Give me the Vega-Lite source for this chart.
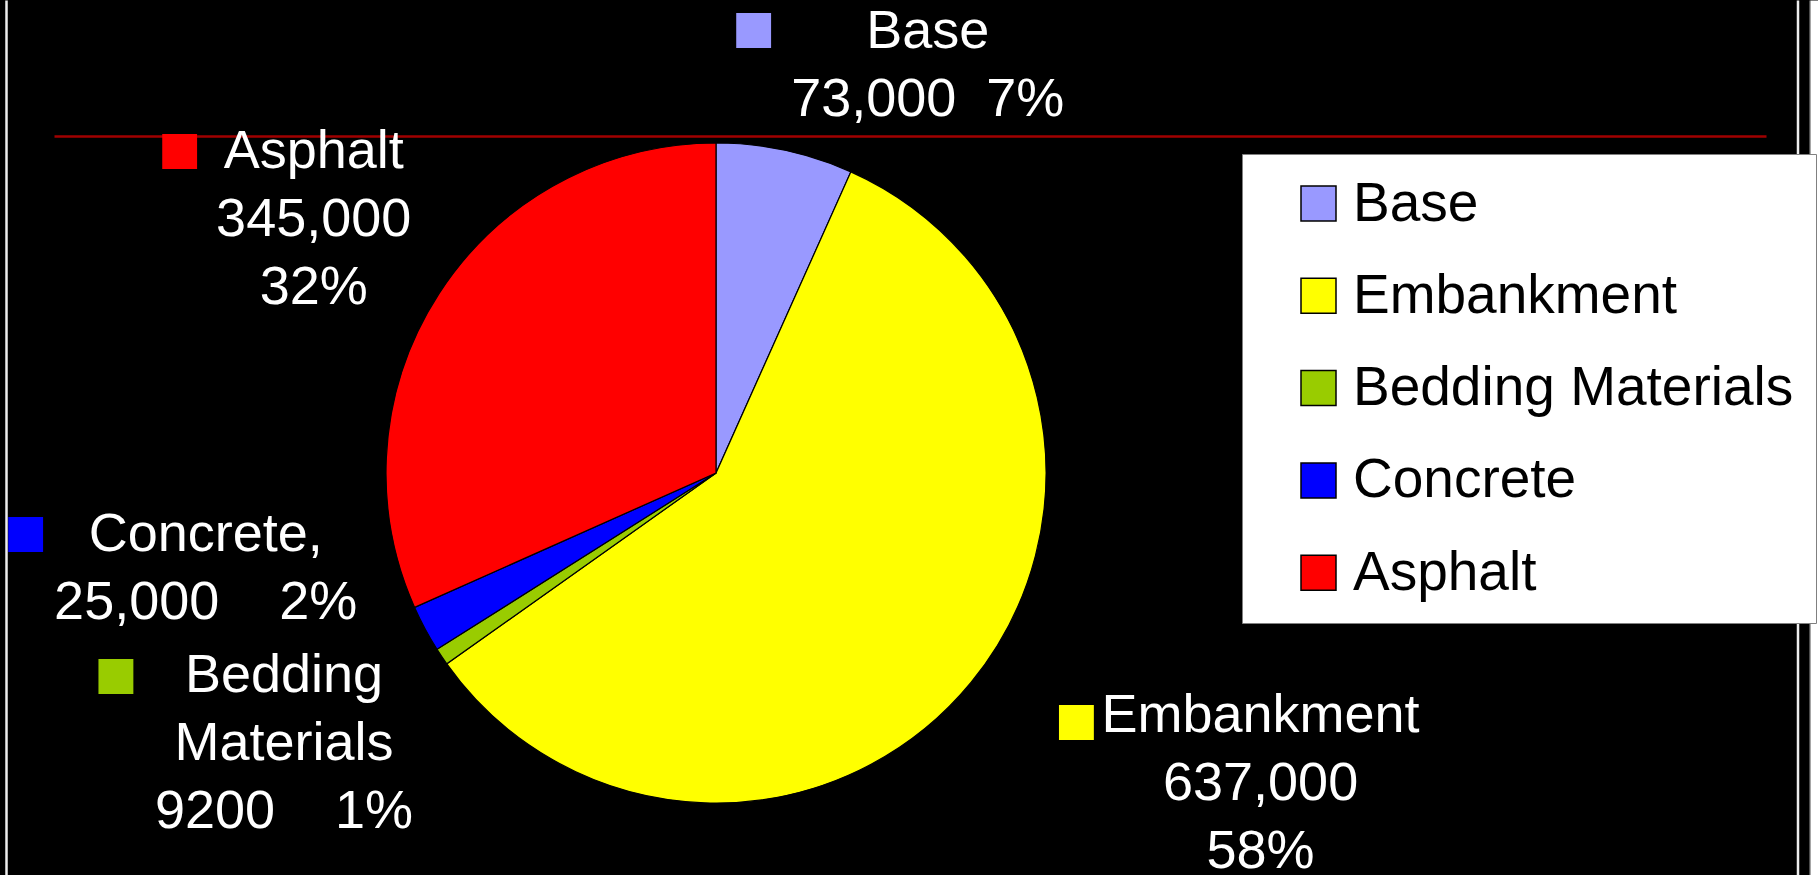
{
  "$schema": "https://vega.github.io/schema/vega-lite/v6.json",
  "background": "#000000",
  "autosize": {"type": "none"},
  "width": 1432,
  "height": 674,
  "padding": {"left": 0, "top": 136, "right": 386, "bottom": 65},
  "config": {
    "view": {"stroke": null},
    "font": "Liberation Sans"
  },
  "data": {
    "values": [
      {"category": "Base", "value": 73000, "order": 1, "label": "Base\n73,000\u00a0\u00a07%"},
      {"category": "Embankment", "value": 637000, "order": 2, "label": "Embankment\n637,000\n58%"},
      {"category": "Bedding Materials", "value": 9200, "order": 3, "label": "Bedding\nMaterials\n9200\u00a0\u00a0\u00a0\u00a01%"},
      {"category": "Concrete", "value": 25000, "order": 4, "label": "Concrete,\n25,000\u00a0\u00a0\u00a0\u00a02%"},
      {"category": "Asphalt", "value": 345000, "order": 5, "label": "Asphalt\n345,000\n32%"}
    ]
  },
  "resolve": {"scale": {"y": "independent"}, "axis": {"y": "independent"}},
  "layer": [
    {
      "mark": {"type": "point", "opacity": 0},
      "encoding": {
        "x": {"datum": 0, "type": "quantitative", "scale": {"domain": [0, 1], "range": [54, 1766], "nice": false, "zero": false},
              "axis": {"orient": "top", "domainColor": "#A00000", "domainWidth": 2.7, "ticks": false, "labels": false, "grid": false, "title": null}},
        "y": {"datum": 0, "type": "quantitative", "scale": {"domain": [0, 1], "range": [739, -136], "nice": false, "zero": false},
              "axis": {"orient": "left", "offset": -6, "domainColor": "#EEEEEE", "domainWidth": 2.5, "ticks": false, "labels": false, "grid": false, "title": null}}
      }
    },
    {
      "mark": {"type": "point", "opacity": 0},
      "encoding": {
        "y": {"datum": 0, "type": "quantitative", "scale": {"domain": [0, 1], "range": [739, -136], "nice": false, "zero": false},
              "axis": {"orient": "right", "offset": 365.5, "domainColor": "#EEEEEE", "domainWidth": 2.5, "ticks": false, "labels": false, "grid": false, "title": null}}
      }
    },
    {
      "mark": {"type": "point", "opacity": 0},
      "encoding": {
        "y": {"datum": 0, "type": "quantitative", "scale": {"domain": [0, 1], "range": [739, -136], "nice": false, "zero": false},
              "axis": {"orient": "right", "offset": 377.5, "domainColor": "#999999", "domainWidth": 1, "ticks": false, "labels": false, "grid": false, "title": null}}
      }
    },
    {
      "mark": {"type": "point", "opacity": 0},
      "encoding": {
        "y": {"datum": 0, "type": "quantitative", "scale": {"domain": [0, 1], "range": [739, -136], "nice": false, "zero": false},
              "axis": {"orient": "right", "offset": 382.5, "domainColor": "#FFFFFF", "domainWidth": 9, "ticks": false, "labels": false, "grid": false, "title": null}}
      }
    },
    {
      "mark": {"type": "arc", "outerRadius": 330, "stroke": "#000000", "strokeWidth": 1.2},
      "encoding": {
        "theta": {"field": "value", "type": "quantitative", "stack": true},
        "order": {"field": "order", "type": "quantitative"},
        "color": {
          "field": "category", "type": "nominal",
          "scale": {"domain": ["Base", "Embankment", "Bedding Materials", "Concrete", "Asphalt"],
                    "range": ["#9999FF", "#FFFF00", "#99CC00", "#0000FF", "#FF0000"]},
          "legend": {
            "orient": "none", "legendX": 1242, "legendY": 18, "title": null,
            "fillColor": "#FFFFFF", "strokeColor": "#808080", "padding": 22,
            "symbolType": "square", "symbolSize": 1225, "symbolStrokeColor": "#000000", "symbolStrokeWidth": 1.5,
            "symbolOffset": 27, "labelFontSize": 55, "labelFont": "Liberation Sans", "labelColor": "#000000",
            "labelOffset": 7, "rowPadding": 36.3, "labelLimit": 1000,
            "labelExpr": "datum.label + '\u00a0\u00a0\u00a0\u00a0\u00a0\u00a0'"
          }
        }
      }
    },
    {
      "mark": {
        "type": "text", "radius": 420, "font": "Liberation Sans", "fontSize": 54, "color": "#FFFFFF",
        "align": "center", "baseline": "alphabetic", "lineBreak": "\n", "lineHeight": 68,
        "dx": {"expr": "datum.category === 'Base' ? 124 : datum.category === 'Embankment' ? 220 : datum.category === 'Bedding Materials' ? -83 : datum.category === 'Concrete' ? -140 : -50"},
        "dy": {"expr": "datum.category === 'Base' ? -14 : datum.category === 'Embankment' ? -8 : datum.category === 'Bedding Materials' ? -15 : datum.category === 'Concrete' ? -120 : -76"}
      },
      "encoding": {
        "theta": {"field": "value", "type": "quantitative", "stack": true},
        "order": {"field": "order", "type": "quantitative"},
        "text": {"field": "label", "type": "nominal"}
      }
    },
    {
      "mark": {
        "type": "text", "radius": 420, "font": "Liberation Sans", "fontSize": 72,
        "align": "center", "baseline": "alphabetic",
        "dx": {"expr": "datum.category === 'Base' ? -50 : datum.category === 'Embankment' ? 36 : datum.category === 'Bedding Materials' ? -251 : datum.category === 'Concrete' ? -320 : -184"},
        "dy": {"expr": "datum.category === 'Base' ? -10 : datum.category === 'Embankment' ? 4 : datum.category === 'Bedding Materials' ? -9 : datum.category === 'Concrete' ? -115 : -71"}
      },
      "encoding": {
        "theta": {"field": "value", "type": "quantitative", "stack": true},
        "order": {"field": "order", "type": "quantitative"},
        "text": {"value": "■"},
        "color": {"field": "category", "type": "nominal", "legend": null}
      }
    }
  ]
}
